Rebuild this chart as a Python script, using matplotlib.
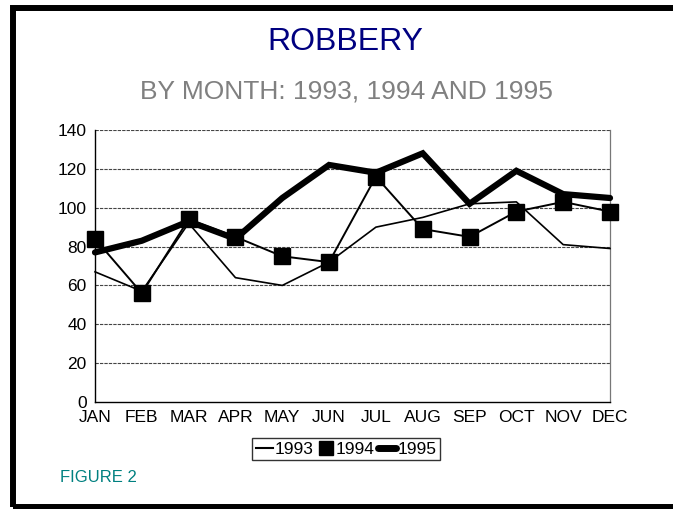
import matplotlib
matplotlib.use('Agg')
import matplotlib.pyplot as plt
from matplotlib.lines import Line2D
from matplotlib.patches import Rectangle

plt.rcParams['font.family'] = ['Liberation Sans', 'DejaVu Sans']

months = ['JAN', 'FEB', 'MAR', 'APR', 'MAY', 'JUN',
          'JUL', 'AUG', 'SEP', 'OCT', 'NOV', 'DEC']
y1993 = [67, 57, 92, 64, 60, 72, 90, 95, 102, 103, 81, 79]
y1994 = [84, 56, 94, 85, 75, 72, 116, 89, 85, 98, 103, 98]
y1995 = [77, 83, 93, 84, 105, 122, 118, 128, 102, 119, 107, 105]
yticks = [0, 20, 40, 60, 80, 100, 120, 140]

W, H = 673, 509
fig = plt.figure(figsize=(W / 100, H / 100), dpi=100)
ax = fig.add_axes([95 / W, 1 - 402 / H, 515 / W, 272 / H])

x = list(range(len(months)))
ax.plot(x, y1993, color='black', lw=1.2, zorder=3, clip_on=False)
ax.plot(x, y1995, color='black', lw=4.5, solid_joinstyle='miter',
        solid_capstyle='round', zorder=4, clip_on=False)
ax.plot(x, y1994, color='black', lw=1.4, marker='s', markersize=11.5,
        zorder=5, clip_on=False)

ax.set_xlim(0, 11)
ax.set_ylim(0, 140)
ax.set_xticks(x)
ax.set_xticklabels(months, fontsize=12.5)
ax.set_yticks(yticks)
ax.tick_params(axis='both', length=0, labelsize=12.5, pad=6)
for v in yticks[1:]:
    ax.axhline(v, color='#444444', lw=0.8, ls=(0, (3, 1)), zorder=1)
ax.spines['right'].set_color('#777777')
ax.spines['right'].set_linewidth(0.9)
for s in ['left', 'bottom']:
    ax.spines[s].set_color('black')
    ax.spines[s].set_linewidth(1.0)
ax.spines['top'].set_visible(False)

fig.text(345 / W, 1 - 42 / H, 'ROBBERY', ha='center', va='center',
         fontsize=23, color='#000080')
fig.text(346 / W, 1 - 92 / H, 'BY MONTH: 1993, 1994 AND 1995', ha='center',
         va='center', fontsize=19, color='#808080')
fig.text(60 / W, 1 - 477 / H, 'FIGURE 2', ha='left', va='center',
         fontsize=12, color='#008080')

handles = [
    Line2D([], [], color='black', lw=1.5),
    Line2D([], [], color='black', lw=0, marker='s', markersize=10),
    Line2D([], [], color='black', lw=5, solid_capstyle='round'),
]
leg = fig.legend(handles, ['1993', '1994', '1995'], loc='center',
                 bbox_to_anchor=(346 / W, 1 - 449 / H), ncol=3,
                 fontsize=12.5, frameon=True, fancybox=False,
                 handlelength=1.0, handletextpad=0.1, columnspacing=0.2,
                 borderpad=0.2, borderaxespad=0)
leg.get_frame().set_edgecolor('black')
leg.get_frame().set_linewidth(1.0)

fig.patches.append(Rectangle((13 / W, 2 / H), 1.0, (507 - 8) / H,
                             transform=fig.transFigure, fill=False,
                             edgecolor='black', lw=4.3, clip_on=False))

fig.savefig('out.png', dpi=100, facecolor='white')
